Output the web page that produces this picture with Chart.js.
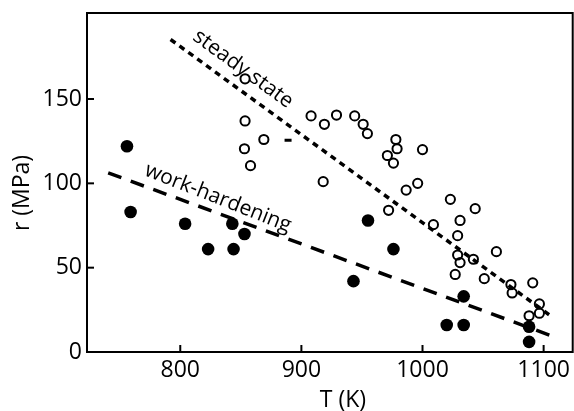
<!DOCTYPE html>
<html>
<head>
<meta charset="utf-8">
<script src="https://cdn.jsdelivr.net/npm/chart.js@4"></script>
<style>
html,body{margin:0;padding:0;background:#fff;}
canvas{display:block;}
</style>
</head>
<body>
<canvas id="c" width="574" height="411"></canvas>
<script>
// Work-hardening (filled circles)
const hardT = [756, 759, 804, 823, 843, 844, 853, 943, 955, 976, 1020, 1034, 1034, 1088, 1088];
const hardR = [122, 83, 76, 61, 76, 61, 70, 42, 78, 61, 16, 33, 16, 15, 6];
// Steady state (open circles)
const steadyT = [853.5, 853.5, 869, 853, 858, 908, 919, 929, 944, 951, 954.5, 978, 979, 971, 976, 1000, 918, 986.5, 996, 972, 1023, 1043.5, 1031, 1009, 1029, 1061, 1029, 1031, 1042, 1027, 1051, 1073, 1074, 1091, 1096.5, 1096.5, 1088];
const steadyR = [162, 137, 126, 120.5, 110.5, 140, 135, 140.5, 140, 135, 129.5, 126, 120.5, 116.5, 112, 120, 101, 96, 100, 84, 90.5, 85, 78, 75.5, 69, 59.5, 57.5, 53, 55, 46, 43.5, 40, 35, 41, 28.5, 23, 21.5];
// Stray dash marker
const dashT = [889];
const dashR = [125.6];
// Trend lines
const steadyFitT = [792, 1107];
const steadyFitR = [185.3, 20.8];
const hardFitT = [740.5, 1108.3];
const hardFitR = [106.2, 9.1];
// Axes
const xTicks = [800, 900, 1000, 1100];
const yTicks = [0, 50, 100, 150];
const xTitle = 'T (K)';
const yTitle = 'r (MPa)';
const steadyLabel = 'steady state';
const hardLabel = 'work-hardening';

const FONT = "'Open Sans', sans-serif";
const toPts = (xs, ys) => xs.map((x, i) => ({x: x, y: ys[i]}));

const framePlugin = {
  id: 'frame',
  afterDraw(chart) {
    const {ctx, chartArea: a, scales} = chart;
    const xs = scales.x, ys = scales.y;
    ctx.save();
    ctx.strokeStyle = '#000';
    ctx.lineWidth = 2;
    ctx.strokeRect(a.left, a.top, a.right - a.left, a.bottom - a.top);
    // inward ticks
    xTicks.forEach(v => {
      const px = xs.getPixelForValue(v);
      ctx.beginPath(); ctx.moveTo(px, a.bottom); ctx.lineTo(px, a.bottom - 7); ctx.stroke();
    });
    yTicks.forEach(v => {
      const py = ys.getPixelForValue(v);
      ctx.beginPath(); ctx.moveTo(a.left, py); ctx.lineTo(a.left + 7, py); ctx.stroke();
    });
    ctx.fillStyle = '#000';
    ctx.textAlign = 'center';
    ctx.textBaseline = 'middle';
    // axis titles
    ctx.font = '23px ' + FONT;
    ctx.fillText(xTitle, 343, 400);
    ctx.save();
    ctx.translate(22, 193);
    ctx.rotate(-Math.PI / 2);
    ctx.fillText(yTitle, 0, 0);
    ctx.restore();
    // line labels
    ctx.save();
    ctx.font = '21px ' + FONT;
    ctx.translate(243, 69);
    ctx.rotate(36 * Math.PI / 180);
    ctx.fillText(steadyLabel, 0, 0);
    ctx.restore();
    ctx.save();
    ctx.font = '21px ' + FONT;
    ctx.translate(218, 198);
    ctx.rotate(21.5 * Math.PI / 180);
    ctx.fillText(hardLabel, 0, 0);
    ctx.restore();
    ctx.restore();
  }
};

new Chart(document.getElementById('c'), {
  type: 'scatter',
  data: {
    datasets: [
      {
        data: toPts(hardT, hardR),
        pointRadius: 6.3,
        pointBackgroundColor: '#000',
        pointBorderColor: '#000',
        pointBorderWidth: 0
      },
      {
        data: toPts(steadyT, steadyR),
        pointRadius: 4.6,
        pointBackgroundColor: 'rgba(255,255,255,0)',
        pointBorderColor: '#000',
        pointBorderWidth: 2
      },
      {
        data: toPts(dashT, dashR),
        pointStyle: 'line',
        pointRadius: 3.5,
        pointBorderColor: '#000',
        pointBorderWidth: 3
      },
      {
        data: toPts(steadyFitT, steadyFitR),
        showLine: true,
        pointRadius: 0,
        borderColor: '#000',
        borderWidth: 3.5,
        borderDash: [6, 5]
      },
      {
        data: toPts(hardFitT, hardFitR),
        showLine: true,
        pointRadius: 0,
        borderColor: '#000',
        borderWidth: 3.5,
        borderDash: [14, 10]
      }
    ]
  },
  options: {
    responsive: false,
    animation: false,
    events: [],
    layout: {autoPadding: false, padding: {top: 13, right: 1.3, left: 0, bottom: 0}},
    plugins: {legend: {display: false}, tooltip: {enabled: false}},
    scales: {
      x: {
        type: 'linear',
        min: 723,
        max: 1124,
        grid: {display: false, drawTicks: true, tickLength: 5},
        border: {display: false},
        afterBuildTicks: s => { s.ticks = xTicks.map(v => ({value: v})); },
        afterFit: s => { s.height = 59; s.paddingLeft = 0; s.paddingRight = 0; },
        ticks: {
          color: '#000',
          font: {family: FONT, size: 23},
          padding: 0,
          maxRotation: 0,
          callback: v => String(v)
        }
      },
      y: {
        type: 'linear',
        min: 0,
        max: 201,
        grid: {display: false, drawTicks: false},
        border: {display: false},
        afterBuildTicks: s => { s.ticks = yTicks.map(v => ({value: v})); },
        afterFit: s => { s.width = 87; s.paddingTop = 0; s.paddingBottom = 0; },
        ticks: {
          color: '#000',
          font: {family: FONT, size: 23},
          padding: 5,
          callback: v => String(v)
        }
      }
    }
  },
  plugins: [framePlugin]
});
</script>
</body>
</html>
